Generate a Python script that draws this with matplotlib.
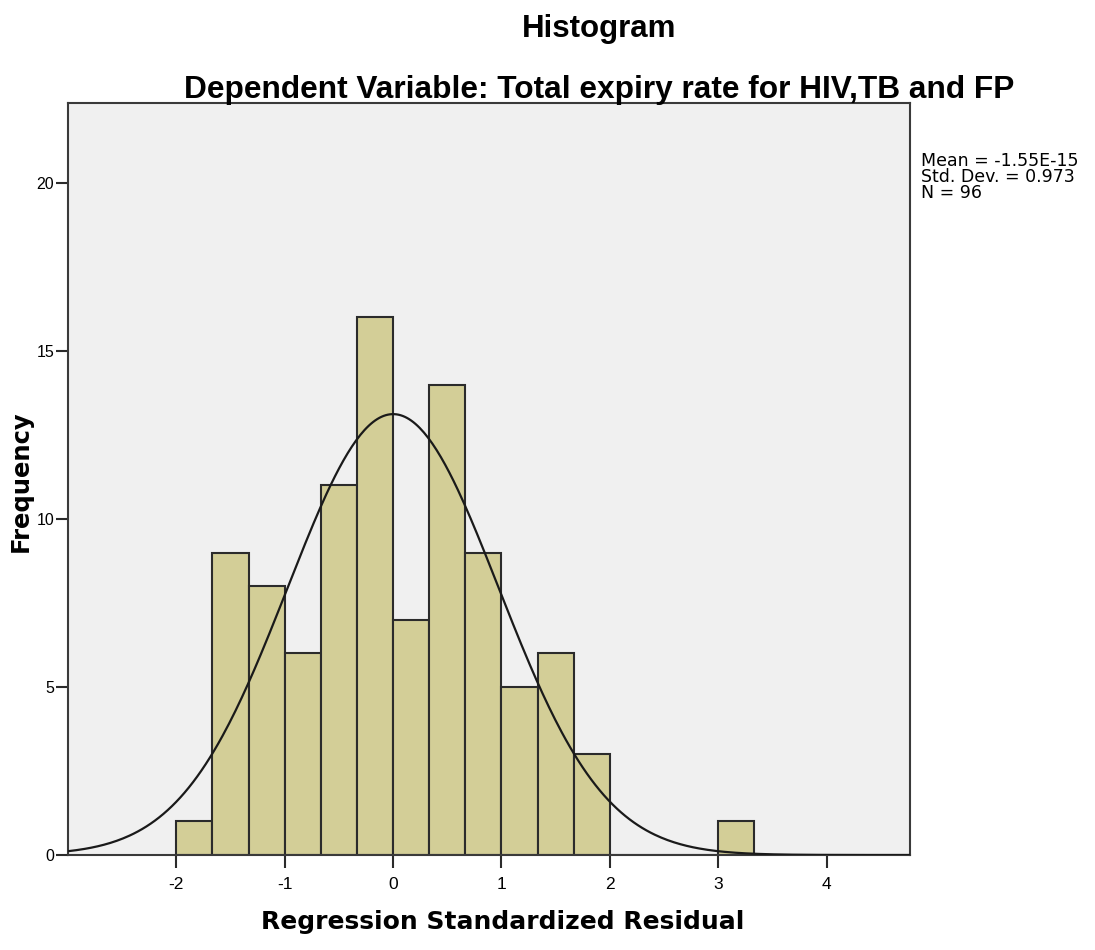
import numpy as np
import matplotlib
matplotlib.use("Agg")
import matplotlib.pyplot as plt

plt.rcParams['font.family'] = ['Liberation Sans', 'DejaVu Sans']

# histogram bins (width 1/3) and counts
bin_edges = [-2, -5/3, -4/3, -1, -2/3, -1/3, 0, 1/3, 2/3, 1, 4/3, 5/3, 2, 7/3, 8/3, 3, 10/3]
counts = [1, 9, 8, 6, 11, 16, 7, 14, 9, 5, 6, 3, 0, 0, 0, 1]
mean = -1.55e-15
sd = 0.973
n = 96

xticks = [-2, -1, 0, 1, 2, 3, 4]
yticks = [0, 5, 10, 15, 20]

fig = plt.figure(figsize=(10.95, 9.5), dpi=100)
ax = fig.add_axes([0.0621, 0.1, 0.769, 0.7916])
ax.set_facecolor('#f0f0f0')

lefts = np.array(bin_edges[:-1])
widths = np.diff(bin_edges)
ax.bar(lefts, counts, width=widths, align='edge', color='#d3ce97',
       edgecolor='#2b2b2b', linewidth=1.5, zorder=2)

# normal curve scaled to counts
xs = np.linspace(-3.0, 4.8, 400)
bw = widths[0]
ys = n * bw / (sd * np.sqrt(2 * np.pi)) * np.exp(-0.5 * ((xs - mean) / sd) ** 2)
ax.plot(xs, ys, color='#1a1a1a', linewidth=1.6, zorder=3)

ax.set_xlim(-3.0, 4.77)
ax.set_ylim(0, 22.38)
ax.set_xticks(xticks)
ax.set_xticklabels([str(t) for t in xticks])
ax.set_yticks(yticks)
ax.tick_params(direction='out', length=9, width=1.5, labelsize=12.5, color='#2b2b2b')
ax.tick_params(axis='x', pad=7)
ax.tick_params(axis='y', pad=1, labelsize=11.5)
for s in ax.spines.values():
    s.set_color('#3a3a3a')
    s.set_linewidth(1.5)

fig.text(0.459, 0.029, 'Regression Standardized Residual', ha='center', va='center',
         fontsize=18, fontweight='bold', family='DejaVu Sans')
fig.text(0.019, 0.494, 'Frequency', ha='center', va='center', rotation=90,
         fontsize=17.5, fontweight='bold', family='DejaVu Sans')

fig.text(0.547, 0.969, 'Histogram', ha='center', va='center', fontsize=22.5, fontweight='bold')
fig.text(0.547, 0.905, 'Dependent Variable: Total expiry rate for HIV,TB and FP',
         ha='center', va='center', fontsize=22.8, fontweight='bold')

fig.text(0.841, 0.8137, 'Mean = -1.55E-15\nStd. Dev. = 0.973\nN = 96',
         ha='left', va='center', fontsize=12.5, linespacing=0.86, family='DejaVu Sans')

fig.savefig('out.png', dpi=100)
